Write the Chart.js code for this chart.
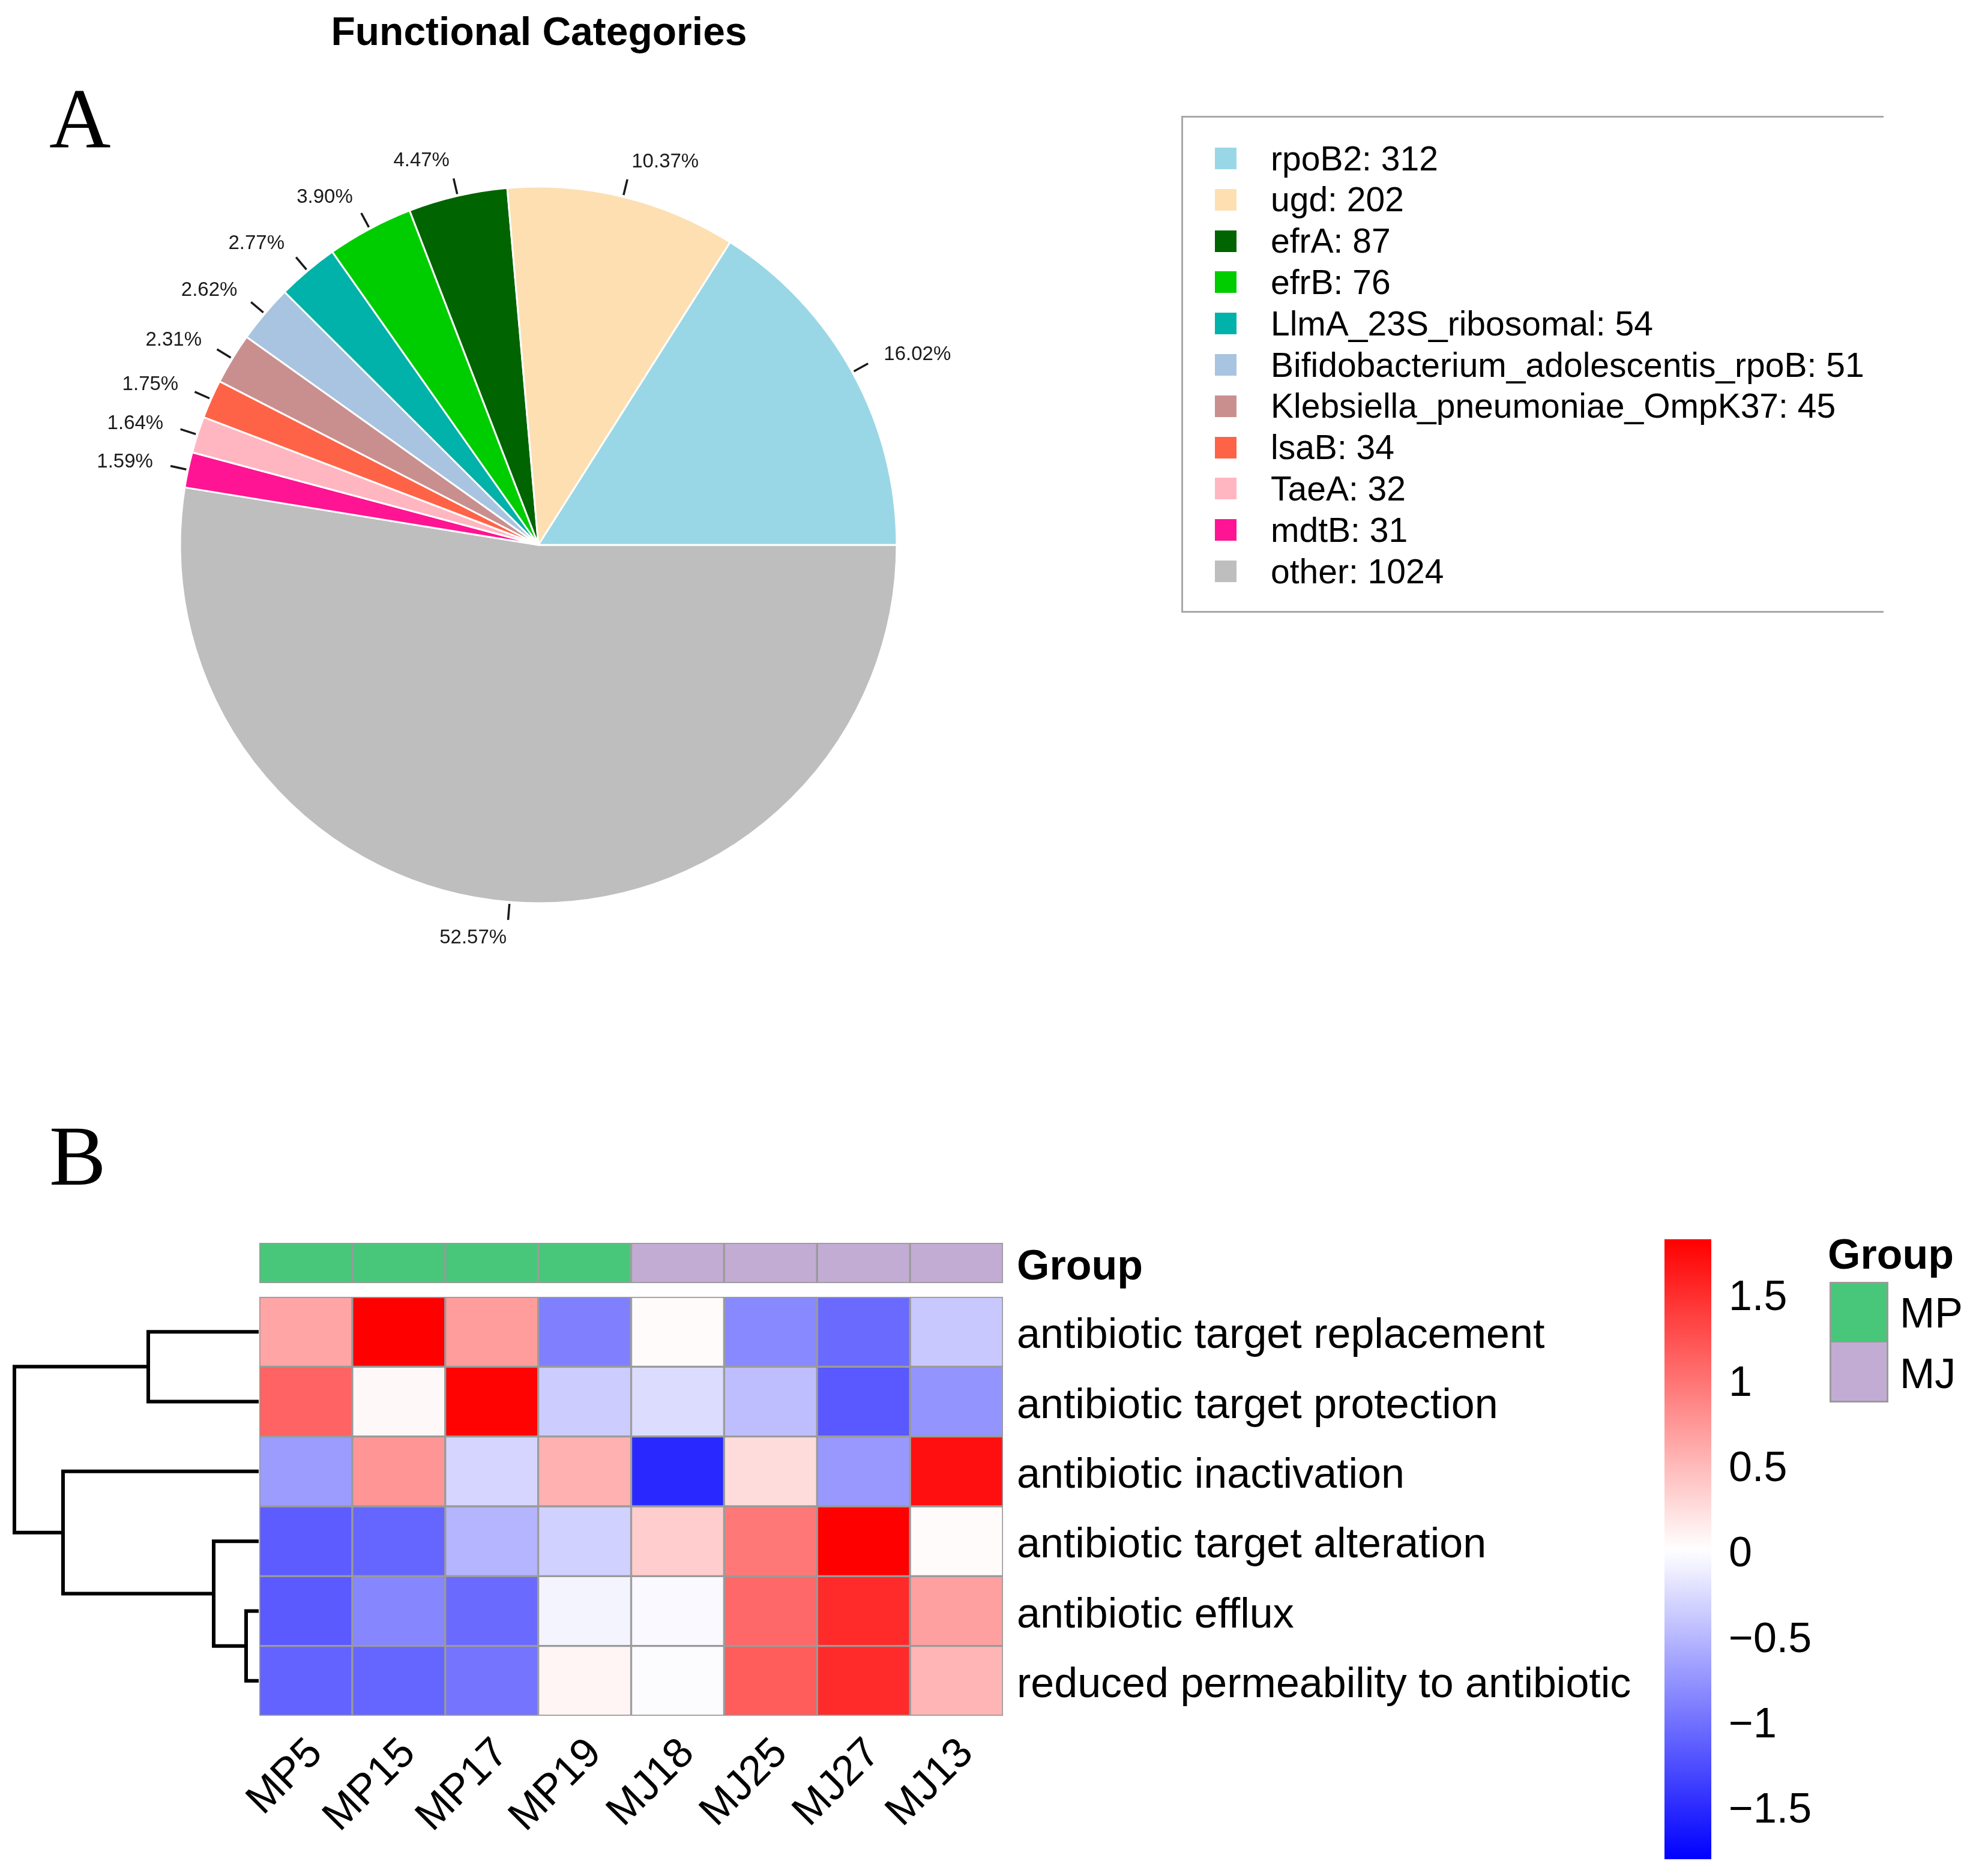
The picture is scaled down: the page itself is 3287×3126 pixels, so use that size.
<!DOCTYPE html>
<html>
<head>
<meta charset="utf-8">
<script src="https://cdn.jsdelivr.net/npm/chart.js@4.4.0/dist/chart.umd.min.js"></script>
<style>
html,body{margin:0;padding:0;background:#fff;}
body{width:3287px;height:3126px;position:relative;overflow:hidden;font-family:'Liberation Sans',Arial,Helvetica,sans-serif;color:#000;}
.abs{position:absolute;white-space:nowrap;}
canvas{position:absolute;}
#title{left:898px;top:19px;font-weight:bold;font-size:66px;line-height:66px;transform:translateX(-50%);}
.panel{font-family:'Liberation Serif','Times New Roman',serif;font-size:142px;line-height:142px;}
#legend{left:1968px;top:193px;width:1170px;height:828px;box-sizing:border-box;border:3px solid #a8a8a8;border-right:none;}
.sw{position:absolute;width:36px;height:36px;}
.lt{position:absolute;font-size:57px;line-height:57px;white-space:nowrap;}
</style>
</head>
<body>
<canvas id="pie" width="1794" height="1816" style="left:0;top:0;"></canvas>
<canvas id="dendro" width="440" height="800" style="left:0;top:2100px;"></canvas>
<canvas id="heat" width="2440" height="1126" style="left:300px;top:2000px;"></canvas>
<canvas id="cbar" width="400" height="1126" style="left:2700px;top:2000px;"></canvas>

<div id="title" class="abs">Functional Categories</div>
<div class="abs panel" style="left:82px;top:126px;">A</div>
<div class="abs panel" style="left:82px;top:1855px;">B</div>
<div id="legend" class="abs"></div>
<div id="glegend"></div>

<script>
// ---------------- DATA ----------------
const pieCategories = ['rpoB2','ugd','efrA','efrB','LlmA_23S_ribosomal','Bifidobacterium_adolescentis_rpoB','Klebsiella_pneumoniae_OmpK37','lsaB','TaeA','mdtB','other'];
const pieCounts = [312,202,87,76,54,51,45,34,32,31,1024];
const pieColors = ['#9AD7E6','#FDDFB2','#006400','#00CD00','#00B2A9','#A8C4E0','#C98F8F','#FF6347','#FFB6C1','#FF1493','#BEBEBE'];

const sampleLabels = ['MP5','MP15','MP17','MP19','MJ18','MJ25','MJ27','MJ13'];
const sampleGroups = ['MP','MP','MP','MP','MJ','MJ','MJ','MJ'];
const groupNames = ['MP','MJ'];
const groupColors = ['#48C77A','#C3ACD4'];
const rowLabels = ['antibiotic target replacement','antibiotic target protection','antibiotic inactivation','antibiotic target alteration','antibiotic efflux','reduced permeability to antibiotic'];
const zTargetReplacement   = [0.64, 1.82, 0.71,-0.90, 0.03,-0.84,-1.06,-0.39];
const zTargetProtection    = [1.11, 0.05, 1.80,-0.36,-0.25,-0.46,-1.18,-0.76];
const zInactivation        = [-0.70, 0.76,-0.30, 0.56,-1.52, 0.25,-0.73, 1.71];
const zTargetAlteration    = [-1.16,-1.09,-0.53,-0.33, 0.36, 0.96, 1.82, 0.03];
const zEfflux              = [-1.17,-0.86,-1.06,-0.08,-0.04, 1.08, 1.51, 0.68];
const zReducedPermeability = [-1.11,-1.09,-0.99, 0.07,-0.02, 1.16, 1.51, 0.53];
const colorbarTicks = [-1.5,-1,-0.5,0,0.5,1,1.5];
const colorbarRange = [-1.81, 1.82];
// hierarchical clustering of rows (hclust style: negative = leaf row, positive = earlier merge)
const dendroMerge = [[-5,-6],[-4,1],[-1,-2],[-3,2],[3,4]];
const dendroHeight = [0.18,0.72,1.81,3.23,4.04];

// ---------------- SETUP ----------------
Chart.defaults.font.family = "'Liberation Sans', Arial, Helvetica, sans-serif";
Chart.defaults.color = '#000';
Chart.defaults.animation = false;
Chart.defaults.plugins.legend.display = false;
Chart.defaults.plugins.tooltip.enabled = false;

function zeroPad(s){ s.paddingLeft=0; s.paddingRight=0; s.paddingTop=0; s.paddingBottom=0; }

function heatColor(v){
  const lo = colorbarRange[0], hi = colorbarRange[1];
  let r,g,b;
  if (v >= 0){ const t = Math.min(v/hi,1); r = 255; g = b = Math.round(255*(1-t)); }
  else { const t = Math.min(v/lo,1); b = 255; r = g = Math.round(255*(1-t)); }
  return 'rgb('+r+','+g+','+b+')';
}

// ---------------- PIE ----------------
const pieLabelPlugin = {
  id: 'pieLabels',
  afterDatasetsDraw(chart){
    const ctx = chart.ctx;
    const meta = chart.getDatasetMeta(0);
    const data = chart.data.datasets[0].data;
    const total = data.reduce((a,b)=>a+b,0);
    ctx.save();
    ctx.font = '33px "Liberation Sans", Arial, sans-serif';
    ctx.fillStyle = '#1a1a1a';
    ctx.strokeStyle = '#1a1a1a';
    ctx.lineWidth = 3.5;
    meta.data.forEach((arc,i)=>{
      const p = arc.getProps(['x','y','startAngle','endAngle','outerRadius'], true);
      const a = (p.startAngle + p.endAngle)/2;
      const c = Math.cos(a), s = Math.sin(a), r = p.outerRadius;
      ctx.beginPath();
      ctx.moveTo(p.x + c*r*1.005, p.y + s*r*1.005);
      ctx.lineTo(p.x + c*r*1.05, p.y + s*r*1.05);
      ctx.stroke();
      ctx.textAlign = c >= 0 ? 'left' : 'right';
      ctx.textBaseline = 'middle';
      ctx.fillText((data[i]/total*100).toFixed(2)+'%', p.x + c*r*1.1, p.y + s*r*1.1);
    });
    ctx.restore();
  }
};

new Chart(document.getElementById('pie'), {
  type: 'pie',
  data: {
    labels: pieCategories.slice().reverse(),
    datasets: [{
      data: pieCounts.slice().reverse(),
      backgroundColor: pieColors.slice().reverse(),
      borderColor: '#ffffff',
      borderWidth: 3,
      radius: 597,
      rotation: 90
    }]
  },
  options: {
    responsive: false, devicePixelRatio: 1,
    radius: 597, rotation: 90,
    layout: {padding: 0},
    plugins: {legend: {display: false}, tooltip: {enabled: false}}
  },
  plugins: [pieLabelPlugin]
});

// pie legend (HTML)
(function(){
  const box = document.getElementById('legend');
  pieCategories.forEach((name,i)=>{
    const cy = 68 + i*68.8;
    const sw = document.createElement('div');
    sw.className = 'sw';
    sw.style.left = '53px';
    sw.style.top = (cy-18)+'px';
    sw.style.background = pieColors[i];
    box.appendChild(sw);
    const t = document.createElement('div');
    t.className = 'lt';
    t.style.left = '146px';
    t.style.top = (cy-28.5)+'px';
    t.textContent = name + ': ' + pieCounts[i];
    box.appendChild(t);
  });
})();

// ---------------- HEATMAP ----------------
const heatRows = [zTargetReplacement, zTargetProtection, zInactivation, zTargetAlteration, zEfflux, zReducedPermeability];
const groupBand = [-0.774, -0.198];
const cellBorder = '#9a9a9a';
const heatDatasets = heatRows.map((vals,r)=>({
  label: rowLabels[r],
  data: sampleLabels.map(()=>[r, r+1]),
  backgroundColor: vals.map(heatColor),
  borderColor: cellBorder, borderWidth: 2, borderSkipped: false,
  grouped: false, barPercentage: 1, categoryPercentage: 1
}));
heatDatasets.push({
  label: 'Group',
  data: sampleLabels.map(()=>groupBand.slice()),
  backgroundColor: sampleGroups.map(g=>groupColors[groupNames.indexOf(g)]),
  borderColor: cellBorder, borderWidth: 2, borderSkipped: false,
  grouped: false, barPercentage: 1, categoryPercentage: 1
});

new Chart(document.getElementById('heat'), {
  type: 'bar',
  data: {labels: sampleLabels, datasets: heatDatasets},
  options: {
    responsive: false, devicePixelRatio: 1,
    layout: {padding: {left: 132, top: 71, right: 0, bottom: 0}},
    scales: {
      x: {
        type: 'category', offset: true,
        grid: {display: false, drawTicks: false}, border: {display: false},
        ticks: {font: {size: 70}, color: '#000', minRotation: 45, maxRotation: 45, autoSkip: false, padding: 22, labelOffset: 17},
        afterFit(s){ s.height = 267; zeroPad(s); }
      },
      y: {
        type: 'linear', position: 'right', reverse: true,
        min: groupBand[0], max: rowLabels.length,
        grid: {display: false, drawTicks: false}, border: {display: false},
        afterBuildTicks(s){
          s.ticks = [{value: (groupBand[0]+groupBand[1])/2}].concat(rowLabels.map((_,i)=>({value: i+0.5})));
        },
        ticks: {
          autoSkip: false, padding: 23, color: '#000', labelOffset: 8,
          font: c => ({size: 70, weight: c.index === 0 ? 'bold' : 'normal'}),
          callback: (v,i) => i === 0 ? 'Group' : rowLabels[i-1]
        },
        afterFit(s){ s.width = 1069; zeroPad(s); }
      }
    }
  }
});

// ---------------- DENDROGRAM ----------------
function buildDendro(){
  const nodeY = [], nodeH = [];
  const pos = idx => idx < 0 ? {y: -idx-1+0.5, h: 0} : {y: nodeY[idx-1], h: nodeH[idx-1]};
  const segs = [];
  dendroMerge.forEach((m,k)=>{
    const A = pos(m[0]), B = pos(m[1]), h = dendroHeight[k];
    segs.push([{x:A.h,y:A.y},{x:h,y:A.y},{x:h,y:B.y},{x:B.h,y:B.y}]);
    nodeY.push((A.y+B.y)/2); nodeH.push(h);
  });
  return segs;
}
new Chart(document.getElementById('dendro'), {
  type: 'scatter',
  data: {datasets: buildDendro().map(d=>({
    data: d, showLine: true, borderColor: '#000', borderWidth: 6, pointRadius: 0,
    fill: false, tension: 0, clip: false, borderCapStyle: 'square', borderJoinStyle: 'miter'
  }))},
  options: {
    responsive: false, devicePixelRatio: 1,
    layout: {padding: {left: 24, right: 12, top: 61, bottom: 41}},
    scales: {
      x: {type: 'linear', reverse: true, min: 0, max: dendroHeight[dendroHeight.length-1], display: false},
      y: {type: 'linear', reverse: true, min: 0, max: rowLabels.length, display: false}
    }
  }
});

// ---------------- COLOR BAR ----------------
function cbarGradient(ctx){
  const ch = ctx.chart;
  if (!ch.chartArea) return '#ffffff';
  const y = ch.scales.y;
  const lo = colorbarRange[0], hi = colorbarRange[1];
  const g = ch.ctx.createLinearGradient(0, y.getPixelForValue(lo), 0, y.getPixelForValue(hi));
  for (let k=0;k<=40;k++){ g.addColorStop(k/40, heatColor(lo + (hi-lo)*k/40)); }
  return g;
}
new Chart(document.getElementById('cbar'), {
  type: 'bar',
  data: {labels: ['scale'], datasets: [{data: [colorbarRange.slice()], backgroundColor: cbarGradient, borderWidth: 0, barPercentage: 1, categoryPercentage: 1}]},
  options: {
    responsive: false, devicePixelRatio: 1,
    layout: {padding: {left: 73, top: 65, right: 0, bottom: 28}},
    scales: {
      x: {display: false, offset: true},
      y: {
        position: 'right', min: colorbarRange[0], max: colorbarRange[1],
        grid: {display: false, drawTicks: false}, border: {display: false},
        afterBuildTicks(s){ s.ticks = colorbarTicks.map(v=>({value: v})); },
        ticks: {padding: 29, color: '#000', font: {size: 70}, autoSkip: false, labelOffset: 8,
          callback: v => v < 0 ? '\u2212' + String(Math.abs(v)) : String(v)},
        afterFit(s){ s.width = 249; zeroPad(s); }
      }
    }
  }
});

// ---------------- GROUP LEGEND (HTML) ----------------
(function(){
  const host = document.getElementById('glegend');
  let html = '<div class="abs" style="left:3045px;top:2055px;font-weight:bold;font-size:70px;line-height:70px;">Group</div>';
  html += '<div class="abs" style="left:3048px;top:2136px;width:98px;height:201px;box-sizing:border-box;border:3px solid #9a9a9a;">';
  groupNames.forEach((g,i)=>{
    html += '<div style="position:absolute;left:0;top:'+(i*97.5)+'px;width:92px;height:97.5px;background:'+groupColors[i]+';'+(i===0?'border-bottom:2px solid #9a9a9a;box-sizing:border-box;':'')+'"></div>';
  });
  html += '</div>';
  groupNames.forEach((g,i)=>{
    html += '<div class="abs" style="left:3165px;top:'+(2153+i*101)+'px;font-size:70px;line-height:70px;">'+g+'</div>';
  });
  host.innerHTML = html;
})();
</script>
</body>
</html>
